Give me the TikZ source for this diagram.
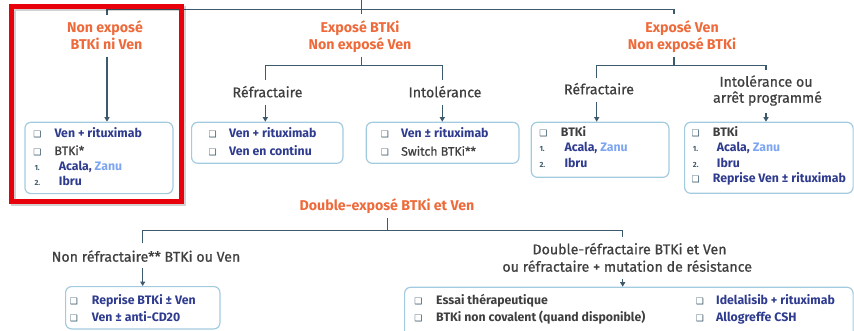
\documentclass[tikz,border=0pt]{standalone}
\usepackage{fontspec}
\setmainfont{Fira Sans}
\newfontfamily\medf{Fira Sans}[FakeBold=0.7]
\newfontfamily\symfont{DejaVu Sans}
\usetikzlibrary{arrows.meta}
\definecolor{orng}{HTML}{EE6A3A}
\definecolor{navy}{HTML}{2E3B8E}
\definecolor{zanu}{HTML}{7EA6F0}
\definecolor{txtg}{HTML}{3F3F3F}
\definecolor{linec}{HTML}{3D5A6C}
\definecolor{boxc}{HTML}{A3CBE0}
\definecolor{redc}{HTML}{E8000B}
\tikzset{
  head/.style={anchor=base, inner sep=0pt, text=orng, font=\bfseries\fontsize{14.2}{17}\selectfont},
  lab/.style={anchor=base, inner sep=0pt, text=txtg, font=\medf\fontsize{14.2}{16}\selectfont},
  itm/.style={anchor=base west, inner sep=0pt, text=navy, font=\bfseries\fontsize{12.3}{14}\selectfont},
  itmg/.style={itm, text=txtg},
  itmr/.style={itm, text=txtg, font=\medf\fontsize{12.3}{14}\selectfont},
  num/.style={anchor=base west, inner sep=0pt, text=linec, font=\bfseries\fontsize{7.5}{8}\selectfont},
  bul/.style={anchor=base, inner sep=0pt, text=linec, font=\symfont\fontsize{9}{10}\selectfont},
  bx/.style={draw=boxc, line width=1.2pt, rounded corners=6pt},
  conn/.style={draw=linec, line width=1.2pt},
  arr/.style={conn, -{Triangle[length=4.5pt,width=5pt]}}
}
\newcommand{\bsq}{❑}
\begin{document}
\begin{tikzpicture}[x=1pt,y=-1pt]
\useasboundingbox (0,0) rectangle (854,330);
\clip (0,0) rectangle (854,330);
% ---------- top bar
\coordinate (top) at (361.7,0);
\coordinate (tl) at (107,9.7);
\coordinate (tr) at (674,9.7);
\coordinate (tm) at (361.7,14);
\coordinate (tld) at (107,15);
\coordinate (trd) at (674,14);
\draw[conn] (top) -- (tm);
\draw[conn] (tld) -- (tl) -- (tr) -- (trd);
% ---------- headings
\node[head] (h1a) at (105,32.3) {Non exposé};
\node[head] (h1b) at (106.5,49.3) {BTKi ni Ven};
\node[head] (h2a) at (360,32.3) {Exposé BTKi};
\node[head] (h2b) at (360,49.3) {Non exposé Ven};
\node[head] (h3a) at (682,32.3) {Exposé Ven};
\node[head] (h3b) at (682,49.3) {Non exposé BTKi};
\node[head] (h4) at (387,210) {Double-exposé BTKi et Ven};
% ---------- labels
\node[lab] (l21) at (267.5,97.3) {Réfractaire};
\node[lab] (l22) at (445,97.3) {Intolérance};
\node[lab] (l31) at (599,94.3) {Réfractaire};
\node[lab] (l32a) at (766,86.7) {Intolérance ou};
\node[lab] (l32b) at (767.5,102.7) {arrêt programmé};
\node[lab] (l41) at (146,261.7) {Non réfractaire** BTKi ou Ven};
\node[lab] (l42a) at (629.5,254.3) {Double-réfractaire BTKi et Ven};
\node[lab] (l42b) at (627.2,271.7) {ou réfractaire + mutation de résistance};
% ---------- boxes
\node[bx, anchor=north west, minimum width=148pt, minimum height=71.3pt] (b1) at (24.3,121.7) {};
\node[bx, anchor=north west, minimum width=151.3pt, minimum height=41pt] (b2) at (191,121.7) {};
\node[bx, anchor=north west, minimum width=152.6pt, minimum height=41pt] (b3) at (365.7,121.7) {};
\node[bx, anchor=north west, minimum width=137.6pt, minimum height=55pt] (b4) at (530.7,121.7) {};
\node[bx, anchor=north west, minimum width=168.5pt, minimum height=71pt] (b5) at (684,121.7) {};
\node[bx, anchor=north west, minimum width=154.3pt, minimum height=42.3pt] (b6) at (65,286) {};
\node[bx, anchor=north west, minimum width=448.5pt, minimum height=60pt] (b7) at (404,286.7) {};
% ---------- connectors
\coordinate (h1s) at (107,56.7);
\draw[arr] (h1s) -- (b1.north -| h1s);
\coordinate (h2s) at (361.7,56.7);
\coordinate (h2j) at (361.7,65.7);
\coordinate (r2l) at (265.3,80);
\coordinate (r2r) at (442.3,80);
\draw[conn] (h2s) -- (h2j);
\draw[conn] (r2l) -- (r2l |- h2j) -- (r2r |- h2j) -- (r2r);
\coordinate (a2l) at (265.3,105);
\coordinate (a2r) at (442.3,105);
\draw[arr] (a2l) -- (b2.north -| a2l);
\draw[arr] (a2r) -- (b3.north -| a2r);
\coordinate (h3s) at (674,56.7);
\coordinate (h3j) at (674,65.7);
\coordinate (r3l) at (596.7,78.3);
\coordinate (r3r) at (766,70);
\draw[conn] (h3s) -- (h3j);
\draw[conn] (r3l) -- (r3l |- h3j) -- (r3r |- h3j) -- (r3r);
\coordinate (a3l) at (596.7,101.7);
\coordinate (a3r) at (766,113);
\draw[arr] (a3l) -- (b4.north -| a3l);
\draw[arr] (a3r) -- (b5.north -| a3r);
\coordinate (h4s) at (387.7,218.3);
\coordinate (h4j) at (387.7,230.7);
\coordinate (r4l) at (142.7,243.3);
\coordinate (r4r) at (622.7,236.7);
\draw[conn] (h4s) -- (h4j);
\draw[conn] (r4l) -- (r4l |- h4j) -- (r4r |- h4j) -- (r4r);
\coordinate (a4l) at (142.7,268.3);
\coordinate (a4r) at (622.7,279.3);
\draw[arr] (a4l) -- (b6.north -| a4l);
\draw[arr] (a4r) -- (b7.north -| a4r);
% ---------- box 1
\node[bul] (b1u1) at (37.5,137) {\bsq};
\node[itm] (b1t1) at (54.3,137) {Ven + rituximab};
\node[bul] (b1u2) at (37.5,155) {\bsq};
\node[itmr] (b1t2) at (54.3,155) {BTKi*};
\node[num] (b1n1) at (34.3,170.7) {1.};
\node[itm] (b1t3) at (58.7,170.7) {Acala, \textcolor{zanu}{Zanu}};
\node[num] (b1n2) at (34.3,185.7) {2.};
\node[itm] (b1t4) at (58.7,185.7) {Ibru};
% ---------- box 2
\node[bul] (b2u1) at (212.7,137.3) {\bsq};
\node[itm] (b2t1) at (229,137.3) {Ven + rituximab};
\node[bul] (b2u2) at (212.7,155.7) {\bsq};
\node[itm] (b2t2) at (229,155.7) {Ven en continu};
% ---------- box 3
\node[bul] (b3u1) at (385,137.3) {\bsq};
\node[itm] (b3t1) at (401,137.3) {Ven ± rituximab};
\node[bul] (b3u2) at (385,155.7) {\bsq};
\node[itmr] (b3t2) at (401,155.7) {Switch BTKi**};
% ---------- box 4
\node[bul] (b4u1) at (543.3,136.7) {\bsq};
\node[itmg] (b4t1) at (560.7,136.7) {BTKi};
\node[num] (b4n1) at (539.3,151.7) {1.};
\node[itm] (b4t2) at (564.3,151.7) {Acala, \textcolor{zanu}{Zanu}};
\node[num] (b4n2) at (539.3,167.3) {2.};
\node[itm] (b4t3) at (564.3,167.3) {Ibru};
% ---------- box 5
\node[bul] (b5u1) at (695.7,136.7) {\bsq};
\node[itmg] (b5t1) at (712.7,136.7) {BTKi};
\node[num] (b5n1) at (692.7,151.7) {1.};
\node[itm] (b5t2) at (716.7,151.7) {Acala, \textcolor{zanu}{Zanu}};
\node[num] (b5n2) at (692.7,167.3) {2.};
\node[itm] (b5t3) at (716.7,167.3) {Ibru};
\node[bul] (b5u2) at (695.7,182.7) {\bsq};
\node[itm] (b5t4) at (712.7,182.7) {Reprise Ven ± rituximab};
% ---------- box 6
\node[bul] (b6u1) at (74,304) {\bsq};
\node[itm] (b6t1) at (91.7,304) {Reprise BTKi ± Ven};
\node[bul] (b6u2) at (74,321.7) {\bsq};
\node[itm] (b6t2) at (91.7,321.7) {Ven ± anti-CD20};
% ---------- box 7
\node[bul] (b7u1) at (418.3,304) {\bsq};
\node[itmg] (b7t1) at (436,304) {Essai thérapeutique};
\node[bul] (b7u2) at (418.3,321.7) {\bsq};
\node[itmg] (b7t2) at (436,321.7) {BTKi non covalent (quand disponible)};
\node[bul] (b7u3) at (700,304) {\bsq};
\node[itm] (b7t3) at (716,304) {Idelalisib + rituximab};
\node[bul] (b7u4) at (700,321.7) {\bsq};
\node[itm] (b7t4) at (716,321.7) {Allogreffe CSH};
% ---------- red highlight
\draw[black, opacity=0.18, line width=5pt] (13.5,8.5) rectangle (183.5,203.5);
\draw[redc, line width=4.7pt] (11.7,6.7) rectangle (181.5,201.5);
\end{tikzpicture}
\end{document}
